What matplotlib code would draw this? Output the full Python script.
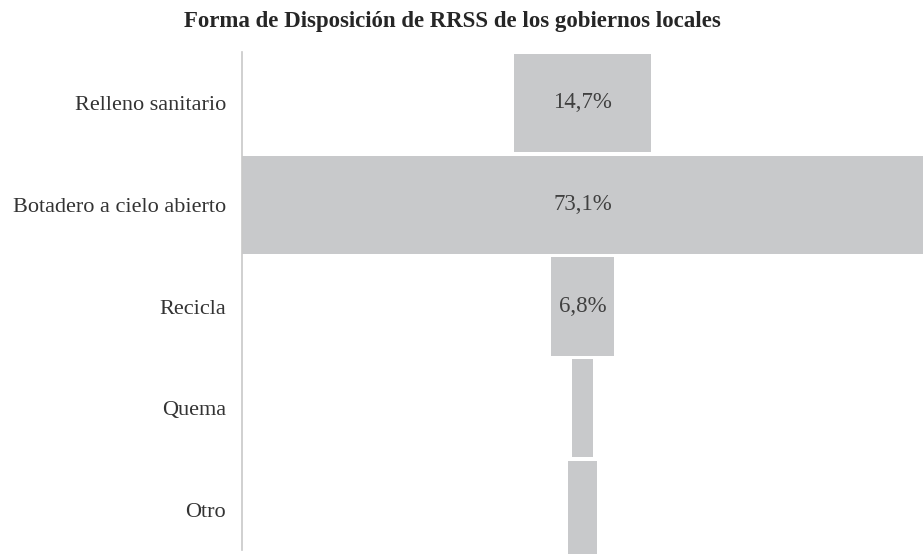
import matplotlib.pyplot as plt

# datos del gráfico
categorias = ['Relleno sanitario', 'Botadero a cielo abierto', 'Recicla', 'Quema', 'Otro']
porcentajes = [14.7, 73.1, 6.8, 2.3, 3.1]
etiquetas = ['14,7%', '73,1%', '6,8%', '', '']

plt.rcParams['font.family'] = 'serif'
plt.rcParams['font.serif'] = ['Liberation Serif', 'DejaVu Serif']

W, H = 923, 554
fig = plt.figure(figsize=(W / 100, H / 100), dpi=100)

# area del gráfico en pixeles
left_px, right_px = 242, 923
top_px, bottom_px = 52, 561
ax = fig.add_axes([left_px / W, 1 - bottom_px / H,
                   (right_px - left_px) / W, (bottom_px - top_px) / H])

max_val = max(porcentajes)
y = list(range(len(categorias)))
# funnel: barras centradas en 0
lefts = [-p / 2 for p in porcentajes]
ax.barh(y, porcentajes, left=lefts, height=0.965, color='#C8C9CB', edgecolor='none')

for yi, txt in zip(y, etiquetas):
    if txt:
        ax.text(0, yi, txt, ha='center', va='center', fontsize=16.5, color='#404040')

ax.set_xlim(-max_val / 2, max_val / 2)
ax.set_ylim(len(categorias) - 0.5, -0.5)
ax.set_yticks(y)
ax.set_yticklabels(categorias, fontsize=16, color='#333333')
ax.tick_params(axis='y', length=0, pad=11.5)
ax.set_xticks([])

for s in ['top', 'right', 'bottom']:
    ax.spines[s].set_visible(False)
ax.spines['left'].set_color('#C8C8C8')
ax.spines['left'].set_linewidth(1.2)
ax.spines['left'].set_bounds(-0.5, 4.39)

fig.text(452 / W, 1 - 27 / H, 'Forma de Disposición de RRSS de los gobiernos locales',
         ha='center', va='baseline', fontsize=16.5, fontweight='bold', color='#262626')

fig.savefig('out.png', dpi=100)
